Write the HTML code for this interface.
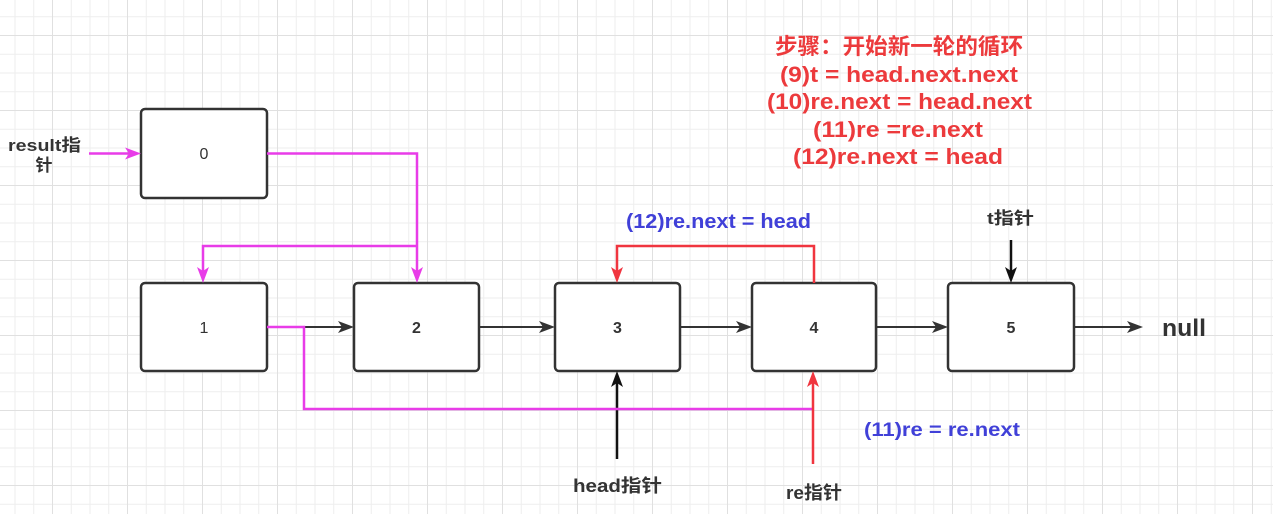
<!DOCTYPE html>
<html><head><meta charset="utf-8"><style>
html,body{margin:0;padding:0;background:#fff;}
svg{display:block;}
text{font-family:"Liberation Sans","Noto Sans CJK SC",sans-serif;}
</style></head><body>
<svg width="1273" height="514" viewBox="0 0 1273 514" xmlns="http://www.w3.org/2000/svg">
<defs>
<pattern id="gm" x="14.5" y="16.25" width="18.75" height="18.75" patternUnits="userSpaceOnUse">
<path d="M0.5 0V18.75M0 0.5H18.75" stroke="#eeeeee" stroke-width="1" fill="none"/>
</pattern>
<pattern id="gM" x="52" y="35" width="75" height="75" patternUnits="userSpaceOnUse">
<path d="M0.5 0V75M0 0.5H75" stroke="#e0e0e0" stroke-width="1" fill="none"/>
</pattern>
</defs>
<rect width="1273" height="514" fill="#fff"/>
<rect width="1273" height="514" fill="url(#gm)"/>
<rect width="1273" height="514" fill="url(#gM)"/>

<!-- boxes -->
<g fill="#fff" stroke="#333" stroke-width="2.5">
<rect x="141" y="109" width="126" height="89" rx="4"/>
<rect x="141" y="283" width="126" height="88" rx="4"/>
<rect x="354" y="283" width="125" height="88" rx="4"/>
<rect x="555" y="283" width="125" height="88" rx="4"/>
<rect x="752" y="283" width="124" height="88" rx="4"/>
<rect x="948" y="283" width="126" height="88" rx="4"/>
</g>
<g font-size="16" fill="#333" text-anchor="middle">
<text x="204" y="159">0</text>
<text x="204" y="333">1</text>
<text x="416.5" y="333" font-weight="bold">2</text>
<text x="617.5" y="333" font-weight="bold">3</text>
<text x="814" y="333" font-weight="bold">4</text>
<text x="1011" y="333" font-weight="bold">5</text>
</g>

<!-- black connectors -->
<g stroke="#333" stroke-width="2" fill="none">
<path d="M304 327H345"/>
<path d="M479 327H546"/>
<path d="M680 327H743"/>
<path d="M876 327H939"/>
<path d="M1074 327H1134"/>
</g>
<g fill="#333">
<polygon points="354,327 338,321 342,327 338,333"/>
<polygon points="555,327 539,321 543,327 539,333"/>
<polygon points="752,327 736,321 740,327 736,333"/>
<polygon points="948,327 932,321 936,327 932,333"/>
<polygon points="1143,327 1127,321 1131,327 1127,333"/>
</g>
<g stroke="#111" stroke-width="2.5" fill="none">
<path d="M617 459V380"/>
<path d="M1011 240V274"/>
</g>
<g fill="#111">
<polygon points="617,371 611,387 617,383 623,387"/>
<polygon points="1011,283 1005,267 1011,271 1017,267"/>
</g>

<!-- magenta connectors -->
<g stroke="#e83ce8" stroke-width="2.5" fill="none">
<path d="M89 153.5H132"/>
<path d="M267 153.5H417V274"/>
<path d="M417 246H203V274"/>
<path d="M267 327H304V409H813"/>
</g>
<g fill="#e83ce8">
<polygon points="141,153.5 125,147.5 129,153.5 125,159.5"/>
<polygon points="417,283 411,267 417,271 423,267"/>
<polygon points="203,283 197,267 203,271 209,267"/>
</g>

<!-- red connectors -->
<g stroke="#f0353f" stroke-width="2.5" fill="none">
<path d="M813 464V380"/>
<path d="M814 283V246H617V274"/>
</g>
<g fill="#f0353f">
<polygon points="813,371 807,387 813,383 819,387"/>
<polygon points="617,283 611,267 617,271 623,267"/>
</g>

<!-- labels -->
<g font-weight="bold" fill="#333">
<text x="8" y="151" font-size="17" textLength="73" lengthAdjust="spacingAndGlyphs">result指</text>
<text x="44" y="171" font-size="17" text-anchor="middle">针</text>
<text x="573" y="492" font-size="18" textLength="89" lengthAdjust="spacingAndGlyphs">head指针</text>
<text x="786" y="499" font-size="18" textLength="56" lengthAdjust="spacingAndGlyphs">re指针</text>
<text x="987" y="224" font-size="17" textLength="47" lengthAdjust="spacingAndGlyphs">t指针</text>
<text x="1162" y="336" font-size="24" textLength="44" lengthAdjust="spacingAndGlyphs">null</text>
</g>
<g font-weight="bold" fill="#4040d8">
<text x="626" y="228" font-size="20" textLength="185" lengthAdjust="spacingAndGlyphs">(12)re.next = head</text>
<text x="864" y="436" font-size="19" textLength="156" lengthAdjust="spacingAndGlyphs">(11)re = re.next</text>
</g>
<g font-weight="bold" fill="#ec3a3c" font-size="22">
<text x="775" y="54" textLength="248" lengthAdjust="spacingAndGlyphs">步骤：开始新一轮的循环</text>
<text x="780" y="82" textLength="238" lengthAdjust="spacingAndGlyphs">(9)t = head.next.next</text>
<text x="767" y="109" textLength="265" lengthAdjust="spacingAndGlyphs">(10)re.next = head.next</text>
<text x="813" y="137" textLength="170" lengthAdjust="spacingAndGlyphs">(11)re =re.next</text>
<text x="793" y="164" textLength="210" lengthAdjust="spacingAndGlyphs">(12)re.next = head</text>
</g>
</svg>
</body></html>
